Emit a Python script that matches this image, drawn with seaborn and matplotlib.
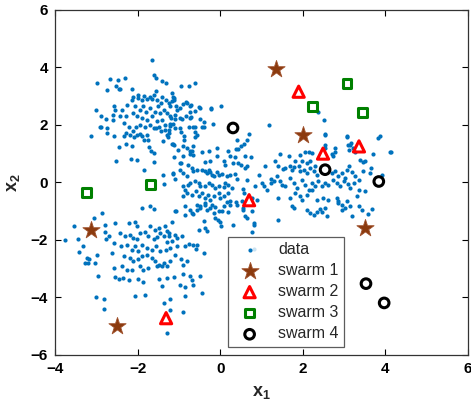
import matplotlib
matplotlib.use("Agg")
import matplotlib.pyplot as plt
import seaborn as sns
import pandas as pd

# ---------------- data ----------------
cluster_upper_left = [
    (-1.64, 4.24), (-1.60, 3.72), (-1.56, 3.64), (-1.40, 3.51), (-1.31, 3.45), (-2.98, 3.47),
    (-2.67, 3.58), (-2.48, 3.55), (-2.30, 3.61), (-2.73, 3.21), (-2.45, 3.26), (-2.42, 3.24),
    (-2.13, 3.26), (-2.53, 3.35), (-1.16, 3.10), (-1.14, 2.98), (-0.94, 3.35), (-0.75, 3.35),
    (-0.62, 3.45), (-0.90, 2.72), (-0.81, 2.77), (-0.72, 2.64), (-0.50, 2.60), (-0.22, 2.57),
    (0.02, 2.64), (-3.01, 2.52), (-2.88, 2.29), (-2.92, 1.94), (-2.89, 1.93), (-2.76, 2.21),
    (-2.73, 1.88), (-3.12, 1.62), (-2.58, 2.66), (-2.54, 2.52), (-2.60, 2.35), (-2.60, 2.15),
    (-2.73, 1.71), (-2.58, 1.62), (-2.44, 1.23), (-2.52, 0.75), (-2.27, 1.34), (-2.34, 1.60),
    (-2.28, 1.73), (-2.18, 1.66), (-2.14, 1.27), (-2.08, 1.57), (-2.02, 1.65), (-1.95, 1.69),
    (-1.90, 1.62), (-1.84, 1.48), (-1.77, 1.65), (-1.75, 1.46), (-2.02, 0.79), (-2.16, 0.81),
    (-1.84, 0.42), (-1.60, 0.69), (-1.61, 1.02), (-1.73, 1.23), (-1.68, 1.08), (-2.32, 2.06),
    (-2.22, 1.94), (-2.27, 2.31), (-2.42, 2.31), (-2.38, 2.52), (-2.26, 2.68), (-2.14, 2.87),
    (-2.10, 2.98), (-2.00, 3.04), (-1.98, 2.92), (-1.90, 2.87), (-1.84, 3.01), (-1.77, 2.89),
    (-1.71, 2.96), (-1.65, 2.91), (-1.60, 3.04), (-1.56, 3.19), (-1.53, 2.87), (-1.41, 2.96),
    (-1.44, 2.77), (-1.50, 2.66), (-1.31, 2.87), (-1.25, 2.75), (-1.21, 2.64), (-1.13, 2.87),
    (-1.06, 2.66), (-1.05, 2.52), (-0.97, 2.60), (-1.09, 2.35), (-1.21, 2.29), (-1.29, 2.40),
    (-1.37, 2.52), (-1.45, 2.40), (-1.57, 2.46), (-1.69, 2.58), (-1.79, 2.46), (-1.87, 2.66),
    (-1.95, 2.52), (-2.06, 2.64), (-2.11, 2.40), (-2.02, 2.29), (-1.90, 2.23), (-1.77, 2.17),
    (-1.65, 2.29), (-1.53, 2.12), (-1.41, 2.17), (-1.33, 2.00), (-1.47, 1.92), (-1.55, 1.90),
    (-1.61, 1.88), (-1.71, 2.00), (-1.81, 1.94), (-1.94, 2.00), (-2.03, 1.94), (-2.10, 1.80),
    (-1.44, 1.77), (-1.33, 1.83), (-1.21, 1.97), (-1.15, 2.03), (-1.09, 1.88), (-1.25, 1.71),
    (-1.39, 1.42), (-1.17, 1.34), (-1.11, 1.31), (-0.90, 1.25), (-0.87, 1.60), (-0.97, 1.88),
    (-0.93, 2.20), (-0.82, 2.29), (-0.71, 2.27), (-0.65, 1.94), (-0.56, 1.65), (-0.60, 1.57),
    (-0.48, 2.20), (-0.39, 1.94), (-0.18, 2.03), (-0.69, 1.08), (-0.81, 1.19), (-0.73, 0.99),
    (-0.89, 0.90), (-0.97, 0.67), (-1.13, 0.88), (-1.39, 0.25), (-1.15, 0.32), (-1.37, -0.05),
    (-1.11, 2.92), (-1.17, 2.81), (-0.83, 2.79), (-0.70, 2.70), (-0.52, 2.62), (-0.62, 2.47),
    (-0.73, 2.44), (-0.23, 2.56), (-1.20, 2.25), (-1.10, 2.20), (-0.97, 2.22), (-0.73, 2.23),
    (-0.40, 2.08), (-1.21, 2.03), (-1.23, 1.83), (-1.29, 1.65), (-0.95, 1.74), (-0.75, 1.92),
    (-0.62, 1.92), (-0.61, 1.74), (-0.43, 1.92), (-1.15, 1.35), (-0.87, 1.48), (-1.27, 1.57),
    (-0.65, 1.25), (-0.08, 1.19),
]

cluster_center = [
    (-1.01, 1.11), (-0.73, 1.08), (-0.65, 0.96), (-0.44, 1.04), (-0.28, 1.08), (-0.08, 0.90),
    (0.19, 1.08), (0.36, 0.88), (0.24, 0.93), (0.60, 0.90), (0.75, 0.88), (1.09, 0.58),
    (-0.94, 0.67), (-0.97, 0.44), (-0.77, 0.61), (-0.69, 0.49), (-0.56, 0.44), (-0.36, 0.69),
    (-0.24, 0.73), (0.08, 0.73), (0.12, 0.61), (0.32, 0.67), (0.44, 0.67), (0.60, 0.50),
    (0.64, 0.56), (0.94, 0.27), (0.51, 0.61), (-1.15, 0.30), (-0.89, 0.33), (-0.81, 0.21),
    (-0.65, 0.38), (-0.44, 0.44), (-0.38, 0.38), (-0.32, 0.32), (-0.28, 0.42), (-0.24, 0.35),
    (-0.20, 0.27), (-0.14, 0.21), (-0.08, 0.35), (-0.02, 0.27), (0.04, 0.30), (0.16, 0.21),
    (0.24, 0.27), (0.36, 0.30), (0.40, 0.12), (0.65, 0.07), (1.01, -0.02), (1.24, 0.12),
    (1.22, -0.02), (1.30, 0.04), (-1.09, 0.12), (-0.89, -0.14), (-0.85, -0.25), (-0.77, -0.08),
    (-0.73, -0.02), (-0.61, 0.04), (-0.52, -0.02), (-0.48, -0.11), (-0.36, -0.14), (-0.28, -0.02),
    (-0.20, -0.08), (-0.12, -0.20), (-0.04, -0.11), (0.08, -0.16), (0.12, -0.02), (0.20, -0.08),
    (0.28, -0.20), (0.54, -0.23), (0.57, -0.37), (0.85, -0.14), (1.05, -0.11), (1.13, -0.25),
    (-0.89, -0.49), (-0.81, -0.37), (-0.69, -0.43), (-0.59, -0.31), (-0.52, -0.46), (-0.44, -0.37),
    (-0.38, -0.54), (-0.30, -0.43), (-0.24, -0.60), (-0.14, -0.49), (-0.04, -0.37), (0.00, -0.54),
    (0.10, -0.49), (0.20, -0.37), (0.24, -0.66), (0.16, -0.69), (0.40, -0.77), (0.52, -0.66),
    (0.78, -0.54), (0.89, -0.60), (-0.85, -0.83), (-0.73, -0.95), (-0.56, -0.78), (-0.48, -0.89),
    (-0.38, -0.72), (-0.32, -0.95), (-0.20, -0.78), (-0.12, -0.86), (0.04, -1.01), (0.10, -0.83),
    (0.19, -1.04), (0.54, -0.89), (0.59, -1.16), (0.65, -1.24), (0.78, -1.01), (-1.07, -1.01),
    (-0.65, -1.09), (-0.52, -1.64), (-0.38, -1.58), (-0.32, -1.70), (-0.12, -1.24), (-0.06, -1.32),
    (0.00, -1.39), (0.02, -1.50), (0.32, -1.47), (0.81, -1.43), (0.78, -1.74), (-0.40, -1.35),
    (0.41, 1.48), (0.51, 1.27), (0.57, 1.32), (0.64, 1.46), (0.70, 1.69), (0.39, 1.16),
    (0.43, 1.16), (0.24, -0.77), (0.39, -0.69), (0.56, -0.95), (0.81, -1.47), (0.81, -2.31),
]

cluster_right = [
    (2.54, 1.69), (3.07, 1.58), (3.83, 1.54), (4.12, 1.04), (2.54, 1.31), (2.53, 1.19),
    (2.77, 1.19), (2.70, 0.99), (2.74, 0.90), (2.78, 1.05), (3.15, 1.31), (3.11, 1.14),
    (3.27, 1.04), (3.21, 1.19), (3.69, 0.99), (3.51, 0.73), (3.39, 0.76), (3.45, 0.69),
    (1.45, 0.99), (1.66, 0.90), (1.94, 0.96), (2.06, 1.04), (2.14, 1.04), (2.22, 1.02),
    (1.82, 0.73), (1.98, 0.73), (2.10, 0.67), (2.18, 0.73), (1.33, 0.73), (1.40, 0.56),
    (1.51, 0.46), (1.57, 0.50), (1.70, 0.56), (1.74, 0.44), (1.78, 0.53), (1.90, 0.56),
    (1.94, 0.38), (2.04, 0.44), (2.10, 0.33), (2.18, 0.50), (2.26, 0.38), (2.30, 0.56),
    (2.34, 0.27), (2.70, 0.33), (2.78, 0.38), (2.86, 0.21), (2.95, 0.33), (3.03, 0.15),
    (3.07, 0.44), (3.11, 0.56), (3.19, 0.35), (3.27, 0.21), (3.35, 0.09), (3.45, 0.38),
    (3.63, 0.33), (3.66, 0.50), (3.91, 0.27), (1.37, 0.21), (1.45, 0.04), (1.49, -0.08),
    (1.57, -0.14), (1.70, 0.15), (1.78, -0.02), (1.86, -0.19), (1.98, 0.09), (2.06, -0.08),
    (2.14, -0.25), (2.22, -0.02), (2.30, -0.14), (2.38, 0.04), (2.46, -0.14), (2.54, -0.02),
    (2.62, -0.08), (2.74, 0.09), (2.82, -0.02), (2.90, -0.14), (2.99, 0.04), (3.09, -0.05),
    (3.15, -0.19), (3.23, -0.02), (3.35, -0.25), (3.51, -0.31), (3.31, -0.48), (1.41, -0.54),
    (1.70, -0.54), (1.82, -0.37), (1.94, -0.48), (1.98, -0.60), (2.10, -0.43), (2.22, -0.25),
    (2.34, -0.62), (2.50, -0.54), (2.62, -0.60), (2.82, -0.54), (2.86, -0.66), (2.95, -0.77),
    (3.07, -0.66), (3.15, -0.83), (3.35, -0.83), (3.43, -0.95), (3.67, -0.92), (1.78, -0.89),
    (2.10, -0.97), (2.18, -1.06), (2.26, -1.12), (2.34, -1.04), (2.46, -1.04), (2.54, -0.89),
    (2.95, -0.95), (3.19, -1.16), (1.41, -1.30), (1.17, 2.00), (2.36, 2.43), (2.52, 2.18),
    (2.53, 1.65), (3.08, 1.60), (3.86, 1.60), (4.14, 1.06), (3.16, 1.36), (3.10, 1.30),
    (1.74, -0.83), (2.42, -0.92), (2.58, -1.16), (2.86, -0.72), (3.03, -0.89), (3.59, -1.09),
]

cluster_lower_left = [
    (-1.90, -0.90), (-1.71, -0.81), (-1.61, -0.92), (-1.09, -1.01), (-0.85, -1.12), (-0.69, -1.06),
    (-0.56, -0.95), (-0.48, -0.83), (-0.36, -0.77), (-0.24, -0.89), (-0.16, -1.06), (-0.04, -1.00),
    (-3.05, -1.24), (-2.85, -1.06), (-3.55, -1.50), (-2.54, -1.41), (-2.22, -1.43), (-2.06, -1.39),
    (-2.02, -1.53), (-1.69, -1.53), (-1.57, -1.67), (-1.47, -1.59), (-1.33, -1.53), (-1.17, -1.39),
    (-1.45, -1.76), (-2.78, -1.47), (-2.80, -1.73), (-2.70, -1.87), (-2.76, -1.97), (-3.75, -1.99),
    (-3.45, -1.97), (-3.33, -2.20), (-3.41, -2.43), (-3.23, -2.63), (-3.17, -2.66), (-2.99, -2.51),
    (-3.03, -2.82), (-2.97, -3.24), (-3.27, -2.82), (-3.21, -2.82), (-2.42, -1.76), (-2.30, -1.87),
    (-2.18, -1.82), (-2.10, -1.93), (-2.02, -1.97), (-1.94, -1.76), (-1.82, -1.73), (-1.74, -1.87),
    (-1.61, -1.97), (-1.53, -1.90), (-1.37, -1.87), (-1.25, -1.76), (-1.09, -1.82), (-1.05, -1.93),
    (-0.93, -1.85), (-1.17, -2.05), (-1.29, -2.08), (-2.58, -2.10), (-2.40, -2.22), (-2.26, -2.16),
    (-2.14, -2.34), (-2.06, -2.22), (-1.98, -2.39), (-1.90, -2.16), (-1.77, -2.28), (-1.65, -2.34),
    (-1.55, -2.22), (-1.45, -2.39), (-1.31, -2.34), (-1.21, -2.28), (-1.05, -2.22), (-0.85, -2.20),
    (-0.66, -2.16), (-0.58, -2.31), (-0.39, -2.47), (-2.62, -2.47), (-2.34, -2.57), (-2.18, -2.63),
    (-2.10, -2.74), (-2.00, -2.66), (-1.90, -2.57), (-1.77, -2.51), (-1.65, -2.63), (-1.59, -2.74),
    (-1.49, -2.86), (-1.37, -2.80), (-1.29, -2.89), (-1.21, -2.74), (-1.09, -2.54), (-0.95, -2.68),
    (-0.81, -2.74), (-0.90, -2.86), (-2.58, -2.97), (-2.38, -2.91), (-2.26, -3.03), (-2.14, -3.05),
    (-1.95, -2.91), (-1.87, -3.03), (-1.74, -2.97), (-1.53, -2.91), (-1.41, -2.89), (-2.54, -3.29),
    (-2.44, -3.36), (-2.36, -3.32), (-2.22, -3.38), (-2.00, -3.36), (-1.86, -3.47), (-1.49, -3.36),
    (-1.29, -3.32), (-1.13, -3.29), (-0.89, -3.20), (-0.74, -3.26), (-0.69, -3.38), (-0.65, -3.55),
    (-0.48, -3.24), (-0.44, -3.84), (-1.41, -3.59), (-0.97, -3.55), (-0.85, -3.63), (-3.00, -3.98),
    (-2.82, -4.05), (-2.81, -4.40), (-2.07, -3.96), (-1.82, -3.91), (-1.37, -4.19), (-1.21, -4.07),
    (-1.21, -4.42), (-0.89, -4.51), (-0.85, -3.96), (-1.29, -5.25), (-1.29, -1.70), (-1.25, -1.85),
    (-0.75, -2.13), (-0.56, -2.16),
]

swarm1 = [(1.35, 3.95), (2.00, 1.65), (-3.12, -1.65), (-2.50, -5.00), (3.50, -1.60)]
swarm2 = [(1.90, 3.15), (2.49, 1.00), (3.36, 1.25), (0.70, -0.62), (-1.31, -4.72)]
swarm3 = [(3.07, 3.44), (2.24, 2.64), (3.45, 2.43), (-3.24, -0.35), (-1.69, -0.07)]
swarm4 = [(0.31, 1.89), (2.54, 0.44), (3.84, 0.03), (3.53, -3.52), (3.97, -4.19)]

series_labels = ["data", "swarm 1", "swarm 2", "swarm 3", "swarm 4"]
x_ticks = [-4, -2, 0, 2, 4, 6]
y_ticks = [-6, -4, -2, 0, 2, 4, 6]

# ---------------- figure ----------------
sns.set_theme(style="white")
plt.rcParams["font.family"] = ["Liberation Sans", "DejaVu Sans"]
plt.rcParams["mathtext.fontset"] = "custom"
plt.rcParams["mathtext.rm"] = "Liberation Sans"
plt.rcParams["mathtext.bf"] = "Liberation Sans:bold"
plt.rcParams["mathtext.it"] = "Liberation Sans:bold"

fig = plt.figure(figsize=(4.71, 4.04), dpi=100)
ax = fig.add_axes([55 / 471, 1 - 355 / 404, 413 / 471, 345.3 / 404])

data_pts = cluster_upper_left + cluster_center + cluster_right + cluster_lower_left
df_data = pd.DataFrame(data_pts, columns=["x1", "x2"])
sns.scatterplot(data=df_data, x="x1", y="x2", ax=ax, s=9, color="#0072BD",
                linewidth=0, label=series_labels[0], zorder=2)

def swarm_df(pts):
    return pd.DataFrame(pts, columns=["x1", "x2"])

sns.scatterplot(data=swarm_df(swarm1), x="x1", y="x2", ax=ax, marker="*", s=170,
                color="#8B3A0E", edgecolor="#A0522D", linewidth=0.6,
                label=series_labels[1], zorder=3)
sns.scatterplot(data=swarm_df(swarm2), x="x1", y="x2", ax=ax, marker="^", s=65,
                facecolor="none", edgecolor="#FF0000", linewidth=2.2,
                label=series_labels[2], zorder=3)
sns.scatterplot(data=swarm_df(swarm3), x="x1", y="x2", ax=ax, marker="s", s=38,
                facecolor="none", edgecolor="#008000", linewidth=2.2,
                label=series_labels[3], zorder=3)
sns.scatterplot(data=swarm_df(swarm4), x="x1", y="x2", ax=ax, marker="o", s=48,
                facecolor="none", edgecolor="#000000", linewidth=2.2,
                label=series_labels[4], zorder=3)

ax.set_xlim(-4, 6)
ax.set_ylim(-6, 6)
ax.set_xticks(x_ticks)
ax.set_yticks(y_ticks)
ax.set_xticklabels([str(t) if t >= 0 else "\u2212" + str(-t) for t in x_ticks],
                   fontsize=11, fontweight="bold")
ax.set_yticklabels([str(t) if t >= 0 else "\u2212" + str(-t) for t in y_ticks],
                   fontsize=11, fontweight="bold")
ax.tick_params(direction="in", length=4, width=0.8, top=True, right=True,
               bottom=True, left=True, pad=5, colors="black")
for sp in ax.spines.values():
    sp.set_color("#333333")
    sp.set_linewidth(0.9)

ax.set_xlabel(r"$\mathbf{x_1}$", fontsize=13, labelpad=6)
ax.set_ylabel(r"$\mathbf{x_2}$", fontsize=13, labelpad=6)

leg = ax.legend(loc="lower left", bbox_to_anchor=(0.419, 0.023), fontsize=11.5,
                frameon=True, fancybox=False, edgecolor="#333333", borderpad=0.35,
                labelspacing=0.38, handletextpad=0.8, borderaxespad=0,
                markerscale=1.0)
leg.get_frame().set_linewidth(0.9)
leg.get_frame().set_facecolor("white")
leg.set_zorder(5)

fig.savefig("out.png", dpi=100)
